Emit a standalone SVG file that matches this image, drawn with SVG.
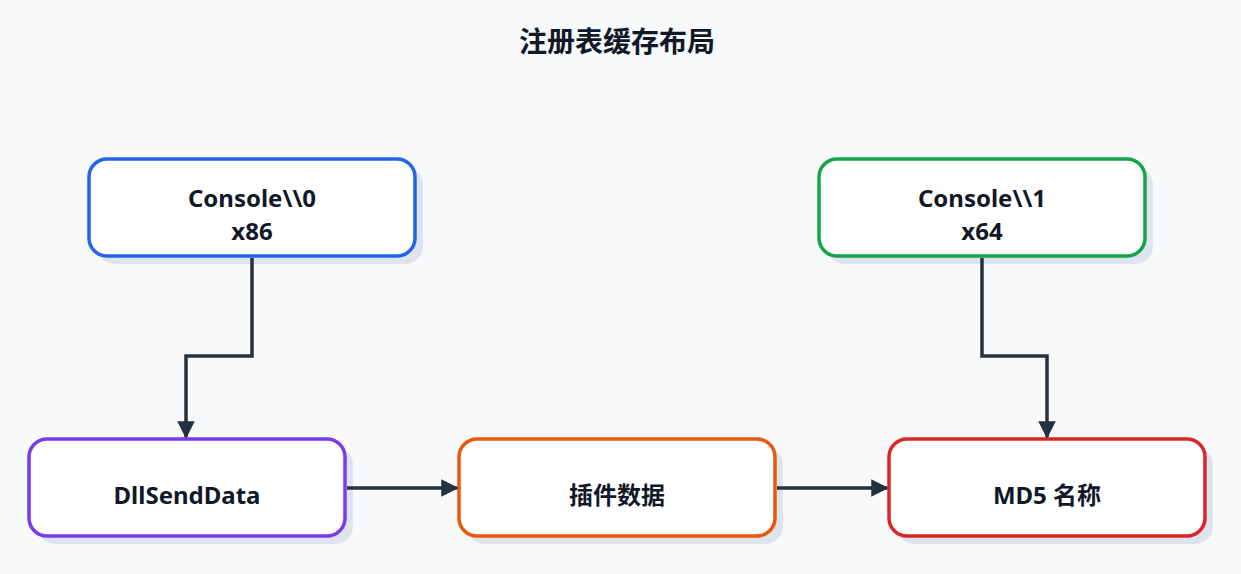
<svg xmlns="http://www.w3.org/2000/svg" width="1241" height="574" viewBox="0 0 1241 574">
<style>
.sh{fill:#dde4ee}
.box{fill:#fff;stroke-width:3.5}
.t{font-family:"Noto Sans","Noto Sans CJK SC",sans-serif;font-weight:bold;font-size:24px;fill:#111827;text-anchor:middle}
.c{fill:none;stroke:#263140;stroke-width:3.5}
</style>
<defs><marker id="a" viewBox="0 0 10 10" refX="9" refY="5" markerWidth="5" markerHeight="5" orient="auto" markerUnits="strokeWidth"><path d="M0,0L10,5L0,10z" fill="#263140"/></marker></defs>
<rect width="1241" height="574" fill="#f8f9fb"/>
<text x="617" y="52" class="t" style="font-size:28px">注册表缓存布局</text>
<g id="n1"><rect class="sh" x="97" y="167" width="326" height="97" rx="18"/><rect class="box" x="89" y="159" width="326" height="97" rx="18" stroke="#2563eb"/><text class="t" x="252" y="207">Console\\0</text><text class="t" x="252" y="240">x86</text></g>
<g id="n2"><rect class="sh" x="827" y="167" width="326" height="97" rx="18"/><rect class="box" x="819" y="159" width="326" height="97" rx="18" stroke="#16a34a"/><text class="t" x="982" y="207">Console\\1</text><text class="t" x="982" y="240">x64</text></g>
<g id="n3"><rect class="sh" x="37" y="447" width="316" height="97" rx="18"/><rect class="box" x="29" y="439" width="316" height="97" rx="18" stroke="#7c3aed"/><text class="t" x="187" y="504">DllSendData</text></g>
<g id="n4"><rect class="sh" x="467" y="447" width="316" height="97" rx="18"/><rect class="box" x="459" y="439" width="316" height="97" rx="18" stroke="#ea580c"/><text class="t" x="617" y="504">插件数据</text></g>
<g id="n5"><rect class="sh" x="897" y="447" width="316" height="97" rx="18"/><rect class="box" x="889" y="439" width="316" height="97" rx="18" stroke="#dc2626"/><text class="t" x="1047" y="504">MD5 名称</text></g>
<g id="connectors">
<path class="c" d="M252,258V356H186V437" marker-end="url(#a)"/>
<path class="c" d="M982,258V356H1047V437" marker-end="url(#a)"/>
<path class="c" d="M347,488H457" marker-end="url(#a)"/>
<path class="c" d="M777,488H887" marker-end="url(#a)"/>
</g>
</svg>
